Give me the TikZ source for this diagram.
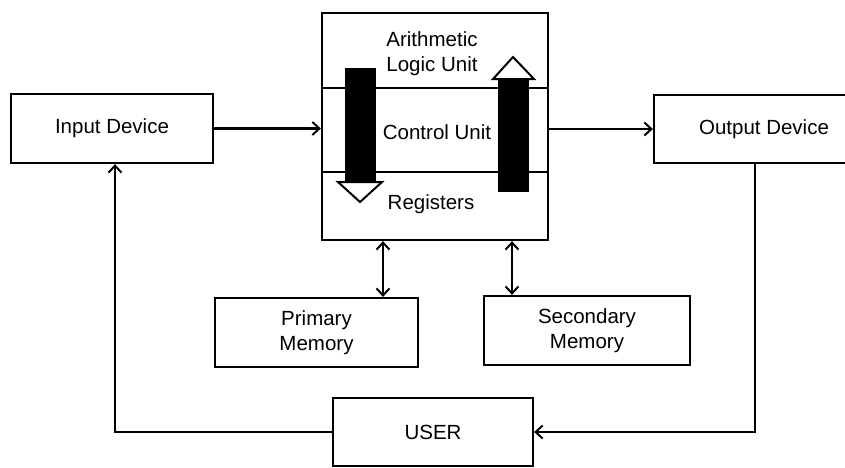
\documentclass[tikz,border=0pt]{standalone}
\usepackage{fontspec}
\setmainfont{Liberation Sans}
\usetikzlibrary{arrows.meta}
\tikzset{
  txt/.style={font=\fontsize{20.5}{25}\selectfont, align=center},
  box/.style={draw, line width=2.3pt, inner sep=0pt, txt},
  lbl/.style={inner sep=0pt, txt},
  barb/.tip={Straight Barb[length=7pt,width=13pt,line width=2pt]},
  link/.style={line width=2.1pt, -barb},
  bilink/.style={line width=2.1pt, barb-barb},
  shaft/.style={fill=black},
  arrowhead/.style={fill=white, draw=black, line width=2pt, line join=miter},
}
\begin{document}
\begin{tikzpicture}[x=1pt,y=-1pt]
\useasboundingbox (0,0) rectangle (845,467);
\clip (0,0) rectangle (845,467);

% main blocks
\node[box, minimum width=202pt, minimum height=69pt] (input) at (112,128.5) {Input Device};
\node[box, minimum width=226pt, minimum height=227pt] (cpu) at (435,126.5) {};
\node[box, minimum width=220pt, minimum height=68pt] (output) at (764,129) {Output Device};
\node[box, minimum width=203pt, minimum height=69pt] (primary) at (316.5,332.5) {Primary\\Memory};
\node[box, minimum width=206pt, minimum height=69pt] (secondary) at (587,330.5) {Secondary\\Memory};
\node[box, minimum width=200pt, minimum height=68pt] (user) at (433,432) {USER};

% sections of the processor
\coordinate (div1) at (0,88);
\coordinate (div2) at (0,172);
\draw[line width=2.1pt] (cpu.west |- div1) -- (cpu.east |- div1);
\draw[line width=2.1pt] (cpu.west |- div2) -- (cpu.east |- div2);
\node[lbl] (alu) at (432,53.5) {Arithmetic\\Logic Unit};
\node[lbl] (cu) at (437,132) {Control Unit};
\node[lbl] (reg) at (431,204) {Registers};

% block arrows: downward on the left, upward on the right
\fill[shaft] (345,68) rectangle (376,182);
\draw[arrowhead] (338,182) -- (382,182) -- (360,202) -- cycle;
\fill[shaft] (498,79) rectangle (529,192);
\draw[arrowhead] (493,79) -- (534,79) -- (513,57) -- cycle;

% data flow
\draw[link] (input.east) -- (input.east -| cpu.west);
\draw[link] (cpu.east |- output.west) -- (output.west);

\coordinate (pmx) at (383,0);
\coordinate (smx) at (512,0);
\draw[bilink] (cpu.south -| pmx) -- (primary.north -| pmx);
\draw[bilink] (cpu.south -| smx) -- (secondary.north -| smx);

% feedback loop through the user
\coordinate (fbr) at (755,0);
\coordinate (fbl) at (115,0);
\draw[link] (output.south -| fbr) |- (user.east);
\draw[link] (user.west) -| (input.south -| fbl);
\end{tikzpicture}
\end{document}
